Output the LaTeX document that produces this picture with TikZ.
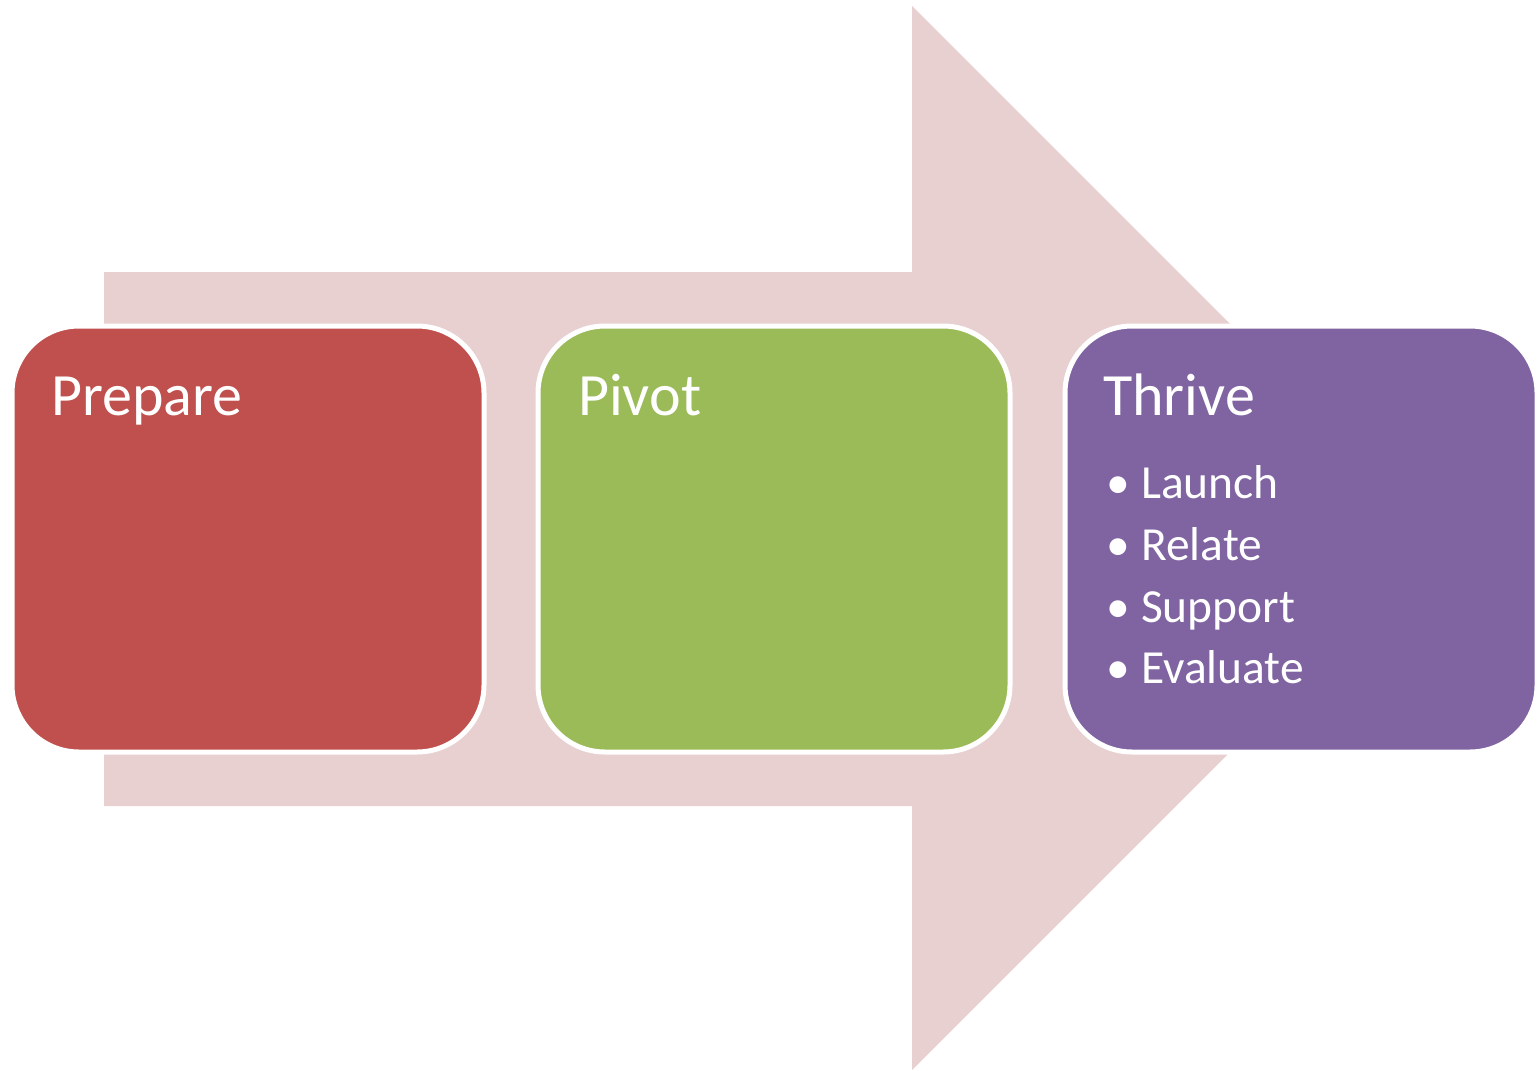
\documentclass[tikz,border=0pt]{standalone}
\usepackage{fontspec}
\setmainfont{Carlito}
\definecolor{arrowpink}{HTML}{E8D0D1}
\definecolor{boxred}{HTML}{C0504D}
\definecolor{boxgreen}{HTML}{9BBB59}
\definecolor{boxpurple}{HTML}{8064A2}
\begin{document}
\begin{tikzpicture}[x=1pt,y=-1pt,
  stagebox/.style={rectangle, rounded corners=67pt, draw=white, line width=5pt,
    minimum width=472pt, minimum height=426pt, inner sep=0pt, outer sep=0pt},
  titletext/.style={anchor=base west, text=white, inner sep=0pt,
    font=\fontsize{60}{72}\selectfont},
  itemtext/.style={anchor=base west, text=white, inner sep=0pt,
    font=\fontsize{47.5}{57}\selectfont}]
\useasboundingbox (0,0) rectangle (1538,1070);
% big background arrow
\fill[arrowpink] (104,272) -- (912,272) -- (912,6) -- (1444,538) -- (912,1070)
  -- (912,806) -- (104,806) -- cycle;
% stage boxes
\node[stagebox, fill=boxred]    (prep)  at (248,539) {};
\node[stagebox, fill=boxgreen]  (pivot) at (774,539) {};
\node[stagebox, fill=boxpurple] (thrive) at (1301,539) {};
% titles
\node[titletext] (tprep)   at (51,415)   {Prepare};
\node[titletext] (tpivot)  at (578,415)  {Pivot};
\node[titletext] (tthrive) at (1103,415) {Thrive};
% bullet items
\node[itemtext] (i1) at (1106,498) {\makebox[35pt][l]{•}Launch};
\node[itemtext] (i2) at (1106,560) {\makebox[35pt][l]{•}Relate};
\node[itemtext] (i3) at (1106,622) {\makebox[35pt][l]{•}Support};
\node[itemtext] (i4) at (1106,683) {\makebox[35pt][l]{•}Evaluate};
\end{tikzpicture}
\end{document}
